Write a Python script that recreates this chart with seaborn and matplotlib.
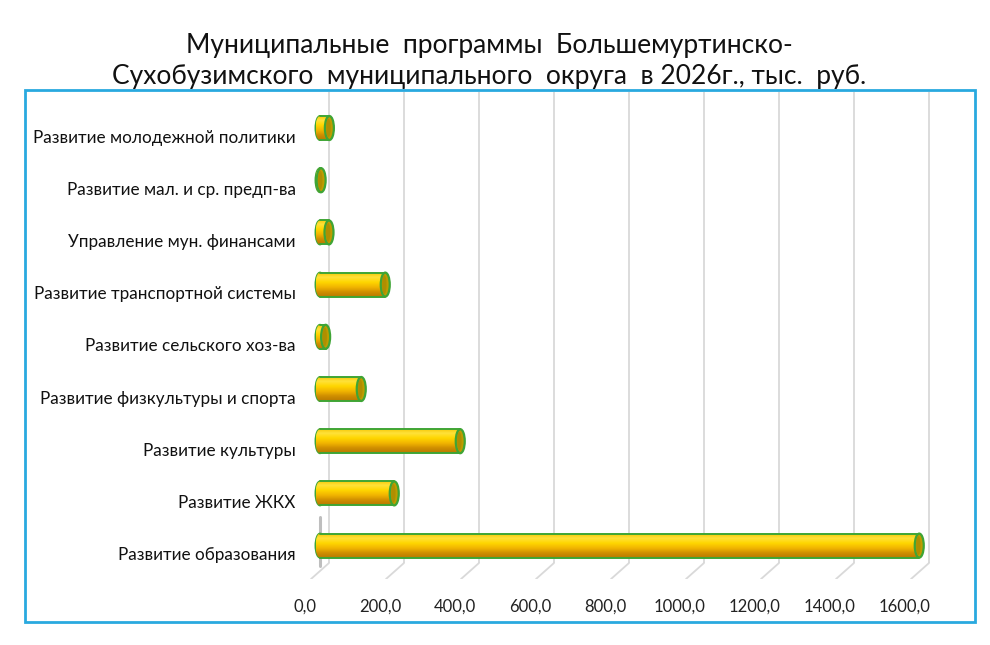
import numpy as np
import matplotlib
matplotlib.use("Agg")
import matplotlib.pyplot as plt
from matplotlib.patches import Ellipse, Rectangle
from matplotlib.colors import LinearSegmentedColormap
from matplotlib.transforms import ScaledTranslation
import seaborn as sns

categories = [
    "Развитие молодежной политики",
    "Развитие мал. и ср. предп-ва",
    "Управление мун. финансами",
    "Развитие транспортной системы",
    "Развитие сельского хоз-ва",
    "Развитие физкультуры и спорта",
    "Развитие культуры",
    "Развитие ЖКХ",
    "Развитие образования",
]
values = [25.0, 3.0, 24.0, 174.0, 15.0, 110.0, 374.0, 198.0, 1598.0]
xticks = [0, 200, 400, 600, 800, 1000, 1200, 1400, 1600]
xticklabels = ["0,0", "200,0", "400,0", "600,0", "800,0", "1000,0", "1200,0", "1400,0", "1600,0"]
title = "Муниципальные  программы  Большемуртинско-\nСухобузимского  муниципального  округа  в 2026г., тыс.  руб."

sns.set_theme(style="white")
plt.rcParams["font.family"] = ["Lato", "DejaVu Sans"]

W, H = 990, 645
fig = plt.figure(figsize=(W / 100, H / 100), dpi=100)

# axes geometry (pixels); data x=0 sits at pixel x0
x0 = 320
ax_l, ax_r, ax_t, ax_b = 300, 942, 92, 579
ax = fig.add_axes([ax_l / W, 1 - ax_b / H, (ax_r - ax_l) / W, (ax_b - ax_t) / H])
ux = 1600.0 / 600.0                 # data units per pixel in x (75 px per 200)
XMIN = -(x0 - ax_l) * ux
XMAX = (ax_r - x0) * ux
y_top, y_bot = -0.69, 8.64
uy = (y_bot - y_top) / (ax_b - ax_t)

# border frame
fig.patches.append(Rectangle((25 / W, 1 - 622 / H), 950 / W, 532 / H,
                             transform=fig.transFigure, fill=False,
                             edgecolor="#29A9DF", linewidth=2.0, zorder=0))

# 3D-like gridlines (back wall + floor)
floor_back = y_bot - 16 * uy
for v in xticks:
    xb = v + 9 * ux
    xf = v - 9 * ux
    ax.plot([xb, xb], [y_top, floor_back], color="#D9D9D9", lw=1.3, zorder=0.5,
            solid_capstyle="butt")
    ax.plot([xb, xf], [floor_back, y_bot], color="#D9D9D9", lw=1.3, zorder=0.5)
# left wall shadow
ax.plot([0, 0], [7.45, floor_back + 0.05], color="#8A8A8A", lw=2.2,
        alpha=0.55, zorder=0.6)

bar_h = 0.46
green = "#3FA535"
sns.barplot(x=values, y=categories, orient="h", color="#FFD200", width=bar_h,
            edgecolor=green, linewidth=1.4, ax=ax, zorder=3)

grad = np.linspace(0, 1, 64).reshape(-1, 1)
cmap = LinearSegmentedColormap.from_list(
    "cyl", ["#F5C400", "#FFE23A", "#FFD600", "#F2B600", "#D08F00", "#B87A00"])
cap_w = 9 * ux
for i, (p, v) in enumerate(zip(list(ax.patches), values)):
    y0 = p.get_y()
    hgt = p.get_height()
    yc = y0 + hgt / 2
    left = Ellipse((0, yc), cap_w, hgt, facecolor="#FFD200",
                   edgecolor=green, lw=1.4, zorder=2.5)
    ax.add_patch(left)
    im = ax.imshow(grad, extent=(-cap_w / 2, v, y0 + hgt, y0), aspect="auto",
                   cmap=cmap, zorder=3.2, interpolation="bilinear")
    im.set_clip_path(p)
    im2 = ax.imshow(grad, extent=(-cap_w / 2, v, y0 + hgt, y0), aspect="auto",
                    cmap=cmap, zorder=2.6, interpolation="bilinear")
    im2.set_clip_path(left)
    ax.plot([0, v], [y0, y0], color=green, lw=1.4, zorder=3.4)
    ax.plot([0, v], [y0 + hgt, y0 + hgt], color=green, lw=1.4, zorder=3.4)
    cap = Ellipse((v, yc), cap_w, hgt, facecolor="#BE9C00",
                  edgecolor=green, lw=1.6, zorder=4)
    ax.add_patch(cap)
    ax.add_patch(Ellipse((v - 0.1 * cap_w, yc), cap_w * 0.5, hgt * 0.78,
                         facecolor="#A88600", edgecolor="none",
                         zorder=4.1, alpha=0.6))
    p.set_edgecolor("none")
ax.set_xlim(XMIN, XMAX)
ax.set_ylim(y_bot, y_top)

for s in ax.spines.values():
    s.set_visible(False)
ax.set_xlabel("")
ax.set_ylabel("")
ax.set_xticks(xticks)
ax.set_xticklabels(xticklabels)
ax.tick_params(axis="x", length=0, pad=14, labelsize=12, colors="#222222")
ax.tick_params(axis="y", length=0, pad=3, labelsize=12.3, colors="#111111")
ax.patch.set_alpha(0)

off_y = ScaledTranslation(0, -0.08, fig.dpi_scale_trans)
for lbl in ax.get_yticklabels():
    lbl.set_transform(lbl.get_transform() + off_y)
off_x = ScaledTranslation(-0.15, 0, fig.dpi_scale_trans)
for lbl in ax.get_xticklabels():
    lbl.set_transform(lbl.get_transform() + off_x)

fig.text(489 / W, 1 - 61 / H, title, ha="center", va="center", fontsize=19,
         color="#111111", linespacing=1.28)

fig.savefig("out.png", dpi=100)
